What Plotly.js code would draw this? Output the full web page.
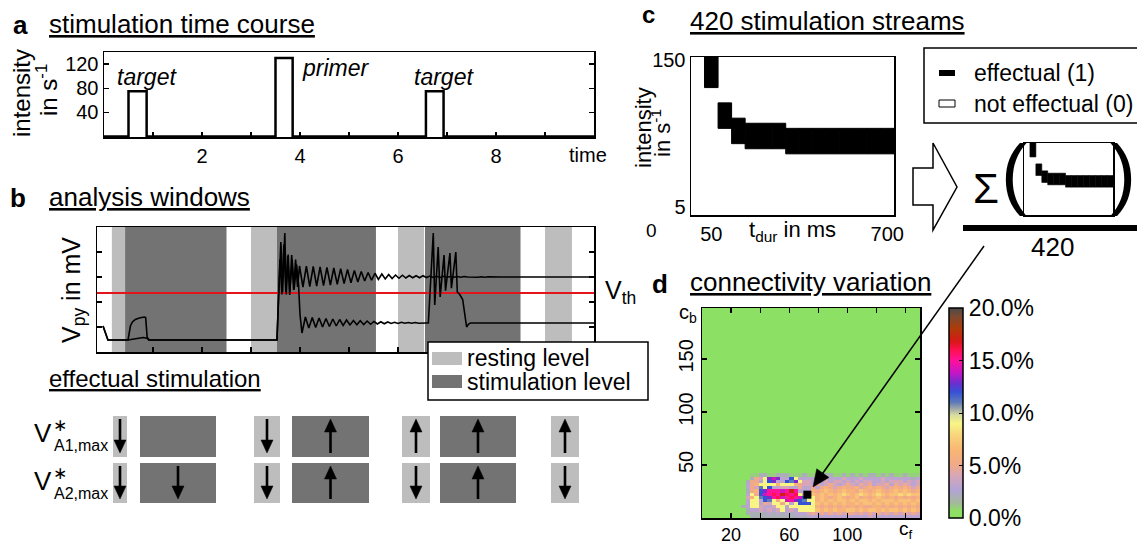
<!DOCTYPE html>
<html><head><meta charset="utf-8">
<script src="https://cdn.plot.ly/plotly-3.0.1.min.js"></script>
<style>html,body{margin:0;padding:0;background:#fff;}#chart{width:1137px;height:544px;}</style>
</head><body><div id="chart"></div>
<script>
// ================= DATA =================
// (a) stimulation time course
const pulseStart = [0.5, 3.5, 6.57];
const pulseEnd = [0.87, 3.85, 6.93];
const pulseIntensity = [75, 130, 75];
const pulseLabel = ['target', 'primer', 'target'];
const timeTicks = [2, 4, 6, 8];

// (b) analysis windows and membrane potential traces
const restWindows = [[0.16, 0.43], [3.0, 3.53], [6.0, 6.53], [9.0, 9.55]];
const stimWindows = [[0.43, 2.5], [3.53, 5.55], [6.55, 8.5]];
const vThreshold = 2.36;
const traceA_t = [-0.02, 0.08, 0.49, 0.51, 0.54, 0.58, 0.64, 0.72, 0.82, 0.85, 0.88, 0.91, 3.53, 3.57, 3.61, 3.645, 3.69, 3.72, 3.76, 3.79, 3.83, 3.87, 3.91, 3.95,
  3.99, 4.06, 4.13, 4.20, 4.27, 4.34, 4.41, 4.48, 4.55, 4.62, 4.69, 4.76, 4.83, 4.90, 4.97, 5.04, 5.11, 5.18, 5.25, 5.32, 5.39, 5.46, 5.53, 5.60, 5.67, 5.74, 5.81, 5.88, 5.95,
  6.02, 6.09, 6.16, 6.23, 6.30, 6.37, 6.44, 6.51, 6.58, 6.65, 6.72, 6.79, 6.86, 6.93, 7.00, 7.07, 7.14, 7.21, 7.28, 7.35, 7.42, 7.49, 7.56, 7.63, 7.70, 7.77, 7.84, 7.91, 8.1, 10.0];
const traceA_v = [1.04, 0.48, 0.48, 0.8, 1.05, 1.2, 1.3, 1.36, 1.4, 1.38, 0.6, 0.48, 0.48, 2.5, 4.4, 2.4, 4.76, 2.3, 3.9, 2.28, 3.88, 2.48, 3.7, 2.6,
  3.44, 2.60, 3.43, 2.62, 3.42, 2.64, 3.40, 2.66, 3.38, 2.68, 3.36, 2.71, 3.33, 2.74, 3.30, 2.77, 3.26, 2.80, 3.22, 2.84, 3.18, 2.87, 3.15, 2.90, 3.12, 2.92, 3.10, 2.94, 3.08,
  2.95, 3.07, 2.96, 3.06, 2.97, 3.05, 2.97, 3.05, 2.98, 3.04, 2.98, 3.03, 2.98, 3.03, 2.99, 3.02, 2.99, 3.02, 2.99, 3.02, 3.00, 2.99, 3.01, 2.99, 3.01, 2.99, 3.01, 3.00, 3.00, 3.00];
const traceB_t = [-0.02, 0.08, 0.49, 0.6, 0.8, 0.88, 0.93, 3.53, 3.56, 3.59, 3.63, 3.67, 3.71, 3.75, 3.79, 3.84, 3.88, 3.93, 3.97, 4.0,
  4.04, 4.11, 4.18, 4.25, 4.32, 4.39, 4.46, 4.53, 4.60, 4.67, 4.74, 4.81, 4.88, 4.95, 5.02, 5.09, 5.16, 5.23, 5.30, 5.37, 5.44, 5.51, 5.58, 5.65, 5.72, 5.79, 5.86, 5.93,
  6.00, 6.07, 6.14, 6.21, 6.28, 6.35, 6.42, 6.49, 6.56,
  6.62, 6.66, 6.72, 6.75, 6.82, 6.86, 6.94, 6.97, 7.06, 7.09, 7.18, 7.21, 7.26, 7.32, 7.37, 7.40, 7.44, 7.48, 10.0];
const traceB_v = [1.04, 0.48, 0.48, 0.52, 0.58, 0.55, 0.48, 0.48, 2.0, 3.7, 2.3, 4.3, 2.4, 3.85, 2.35, 3.7, 2.5, 3.5, 2.7, 1.5,
  0.76, 1.40, 0.96, 1.38, 0.98, 1.36, 1.00, 1.34, 1.02, 1.32, 1.04, 1.30, 1.06, 1.28, 1.08, 1.26, 1.09, 1.25, 1.10, 1.24, 1.11, 1.22, 1.12, 1.21, 1.13, 1.20, 1.14, 1.19,
  1.14, 1.19, 1.15, 1.18, 1.15, 1.18, 1.15, 1.17, 1.16,
  1.16, 2.5, 4.76, 1.88, 4.2, 2.2, 3.88, 2.45, 3.96, 2.55, 4.0, 2.4, 2.3, 2.1, 1.3, 1.0, 1.12, 1.16, 1.16];

// effectual stimulation table (window order: rest, stim, rest, stim, rest, stim, rest)
const windowKinds = ['rest', 'stim', 'rest', 'stim', 'rest', 'stim', 'rest'];
const vA1Dirs = ['down', null, 'down', 'up', 'up', 'up', 'up'];
const vA2Dirs = ['down', 'down', 'down', 'up', 'down', 'up', 'down'];

// (c) 420 stimulation streams: effectual intensity range per duration
const durations = [50, 100, 150, 200, 250, 300, 350, 400, 450, 500, 550, 600, 650, 700];
const effectualMin = [125, 85, 70, 65, 65, 65, 60, 60, 60, 60, 60, 60, 60, 60];
const effectualMax = [150, 105, 90, 85, 85, 85, 80, 80, 80, 80, 80, 80, 80, 80];
const durTicks = [50, 700];
const intTicks = [5, 150];

// (d) connectivity variation (percent, base-36 digit per cell; region c_f 27..150, c_b 42 down to 0)
const heatRows = [
  "00112" + "2112221112" + "1112221121" + "2121221212" + "112111",
  "00254" + "9ded33c933" + "3333433343" + "3343333433" + "333323",
  "02553" + "9cd33cbd94" + "4343434434" + "3434433434" + "443434",
  "03569" + "9996999654" + "4353454345" + "4354534453" + "545434",
  "0354b" + "9c33443353" + "3535654565" + "5645656545" + "656545",
  "0256c" + "dfffefhf33" + "3656765676" + "6576567656" + "767656",
  "0395c" + "efgfhgfg94" + "4767676787" + "6787678767" + "787877",
  "0469b" + "cdfgefgfec" + "9967656765" + "6756567656" + "565656",
  "03993" + "cb959efdcb" + "9967676776" + "7677676777" + "677767",
  "03993" + "54995939cc" + "c976767676" + "6767767676" + "767676",
  "23994" + "3349939999" + "9965656565" + "6565566565" + "656565",
  "02334" + "3434934399" + "9976767667" + "7676776767" + "767676",
  "02222" + "2323232333" + "4545454545" + "5454545454" + "545454",
  "00222" + "2222222232" + "3333333333" + "3333433333" + "333333"
];
const selectedPoint = [72.5, 22];
const cfTicks = [20, 60, 100];
const cbTicks = [50, 100, 150];
const cbarTicks = [0, 5, 10, 15, 20];
const cbarText = ['0.0%', '5.0%', '10.0%', '15.0%', '20.0%'];
const cbarMinor = [2.5, 7.5, 12.5, 17.5];

// ================= BUILD =================
const W = 1137, H = 544;
const PX = x => x / W, PY = y => 1 - y / H;
const FONT = 'Liberation Sans, Arial, Helvetica, sans-serif';
const LIGHT = '#bdbdbd', DARK = '#737373';

// (a) step trace
const aX = [0], aY = [0];
pulseStart.forEach((s, i) => { aX.push(s, s, pulseEnd[i], pulseEnd[i]); aY.push(0, pulseIntensity[i], pulseIntensity[i], 0); });
aX.push(10); aY.push(0);

// (d) full grid
const NX = 50, NY = 66;
const z = [];
for (let r = 0; r < NY; r++) { z.push(new Array(NX).fill(0)); }
heatRows.forEach((row, j) => {
  const ri = 13 - j;
  for (let c = 0; c < row.length; c++) z[ri][9 + c] = parseInt(row[c], 36);
});

const colorscale = [
  [0, '#8ce063'], [0.035, '#8fdf66'], [0.07, '#a3b99a'], [0.135, '#b3a3d6'], [0.2, '#d6a6b8'],
  [0.25, '#f0a98a'], [0.32, '#f8b574'], [0.39, '#f8d27c'], [0.45, '#f8f585'], [0.49, '#d8dca0'],
  [0.52, '#a0a8a8'], [0.55, '#5f7cb8'], [0.6, '#3551d6'], [0.64, '#6a2fd0'], [0.69, '#c316c8'],
  [0.75, '#ff119a'], [0.8, '#ff1050'], [0.84, '#d81818'], [0.9, '#b03a08'], [0.96, '#7c4a30'], [1, '#4a4a4a']
];

const barBase = effectualMin.map(v => v - 2.5);
const barLen = effectualMax.map((v, i) => v - effectualMin[i] + 5);

const traces = [
  { type: 'scatter', mode: 'lines', x: aX, y: aY, xaxis: 'x', yaxis: 'y', line: { color: '#000', width: 2.5 }, hoverinfo: 'skip' },
  { type: 'scatter', mode: 'lines', x: traceA_t, y: traceA_v, xaxis: 'x2', yaxis: 'y2', line: { color: '#000', width: 1.6 }, hoverinfo: 'skip' },
  { type: 'scatter', mode: 'lines', x: traceB_t, y: traceB_v, xaxis: 'x2', yaxis: 'y2', line: { color: '#000', width: 1.6 }, hoverinfo: 'skip' },
  { type: 'bar', x: durations, base: barBase, y: barLen, width: 50,
    xaxis: 'x3', yaxis: 'y3', marker: { color: '#000', line: { width: 1, color: '#000' } }, hoverinfo: 'skip' },
  { type: 'bar', x: durations, base: barBase, y: barLen, width: 50,
    xaxis: 'x5', yaxis: 'y5', marker: { color: '#000', line: { width: 0.6, color: '#000' } }, hoverinfo: 'skip' },
  { type: 'heatmap', z: z, x0: 1.5, dx: 3, y0: 1.5, dy: 3, xaxis: 'x4', yaxis: 'y4', zmin: 0, zmax: 20, colorscale: colorscale,
    hoverinfo: 'skip',
    colorbar: { x: PX(949), xanchor: 'left', y: PY(308), yanchor: 'top', len: 210 / H, lenmode: 'fraction',
      thickness: 14, thicknessmode: 'pixels', xpad: 0, ypad: 0, outlinewidth: 1.5, outlinecolor: '#000',
      tickvals: cbarTicks, ticktext: cbarText, ticks: 'inside', ticklen: 4, tickcolor: '#000', tickwidth: 1,
      tickfont: { family: FONT, size: 23, color: '#000' } } },
  { type: 'scatter', mode: 'markers', x: [selectedPoint[0]], y: [selectedPoint[1]], xaxis: 'x4', yaxis: 'y4',
    marker: { symbol: 'square', size: 8, color: '#000' }, hoverinfo: 'skip' }
];

const axBase = { showgrid: false, zeroline: false, showline: true, linecolor: '#000', linewidth: 1.5, mirror: true,
  ticks: 'inside', ticklen: 5, tickwidth: 1.2, tickcolor: '#000', fixedrange: true,
  tickfont: { family: FONT, size: 20, color: '#000' } };
const ax = o => Object.assign({}, axBase, o);
const minorT = (dtick) => ({ ticks: 'inside', ticklen: 5, tickwidth: 1.2, tickcolor: '#000', dtick: dtick, tick0: 0, showgrid: false });

const shapes = [];
// (b) windows
restWindows.forEach(w => shapes.push({ type: 'rect', xref: 'x2', yref: 'y2 domain', x0: w[0], x1: w[1], y0: 0, y1: 1, fillcolor: LIGHT, line: { width: 0 }, layer: 'below' }));
stimWindows.forEach(w => shapes.push({ type: 'rect', xref: 'x2', yref: 'y2 domain', x0: w[0], x1: w[1], y0: 0, y1: 1, fillcolor: DARK, line: { width: 0 }, layer: 'below' }));
shapes.push({ type: 'line', xref: 'x2 domain', yref: 'y2', x0: 0, x1: 1, y0: vThreshold, y1: vThreshold, line: { color: '#e3151b', width: 1.8 }, layer: 'below' });
// (b) legend
const rectP = (x0, y0, x1, y1, fill, lw) => ({ type: 'rect', xref: 'paper', yref: 'paper', x0: PX(x0), x1: PX(x1), y0: PY(y1), y1: PY(y0),
  fillcolor: fill, line: { color: '#000', width: lw }, layer: 'above' });
const lineP = (x0, y0, x1, y1, w) => ({ type: 'line', xref: 'paper', yref: 'paper', x0: PX(x0), x1: PX(x1), y0: PY(y0), y1: PY(y1), line: { color: '#000', width: w }, layer: 'above' });
const pp = pts => 'M' + pts.map(p => PX(p[0]) + ',' + PY(p[1])).join('L') + 'Z';
const pathP = (pts, fill, lw) => ({ type: 'path', xref: 'paper', yref: 'paper', path: pp(pts), fillcolor: fill, line: { color: '#000', width: lw }, layer: 'above' });
// arrow as shaft line + triangular head, from tail (tx,ty) to tip (hx,hy)
const arrowShapes = (tx, ty, hx, hy, lw, hl, hw) => {
  const dx = hx - tx, dy = hy - ty, len = Math.hypot(dx, dy), ux = dx / len, uy = dy / len;
  const bx = hx - hl * ux, by = hy - hl * uy, nx = -uy, ny = ux;
  return [lineP(tx, ty, bx + ux, by + uy, lw),
    pathP([[hx, hy], [bx + nx * hw / 2, by + ny * hw / 2], [bx - nx * hw / 2, by - ny * hw / 2]], '#000', 0.5)];
};
shapes.push(rectP(428, 342, 648, 400, '#fff', 1.5));
shapes.push(rectP(432, 352, 462, 365, LIGHT, 0));
shapes.push(rectP(432, 375, 462, 388, DARK, 0));
// effectual stimulation table boxes and arrows
const colX0 = [113, 140, 254, 292, 402, 440, 551], colX1 = [127, 216, 280, 369, 430, 516, 579];
const rowY0 = [416, 463], rowY1 = [457, 503];
[0, 1].forEach(r => windowKinds.forEach((k, c) => shapes.push(rectP(colX0[c], rowY0[r], colX1[c], rowY1[r], k === 'rest' ? LIGHT : DARK, 0))));
[vA1Dirs, vA2Dirs].forEach((dirs, r) => dirs.forEach((d, c) => {
  if (!d) return;
  const cx = (colX0[c] + colX1[c]) / 2, top = rowY0[r] + 3, bot = rowY1[r] - 4;
  const s = d === 'down' ? arrowShapes(cx, top, cx, bot, 2.6, 13, 12) : arrowShapes(cx, bot, cx, top, 2.6, 13, 12);
  shapes.push(...s);
}));
// (c) legend
shapes.push(rectP(924, 48, 1150, 123, '#fff', 1.5));
shapes.push(rectP(939, 70, 955, 76, '#000', 0));
shapes.push(rectP(939, 100, 955, 107, '#fff', 1));
// block arrow
shapes.push(pathP([[913, 168], [933, 168], [933, 143], [957, 187], [933, 230], [933, 205], [913, 205]], '#fff', 1.5));
// fraction bar
shapes.push(lineP(963, 228, 1140, 228, 6));
// arrow from the fraction to the selected connectivity
shapes.push(...arrowShapes(984, 246, 813, 487, 1.5, 17, 15));
// colorbar minor ticks
cbarMinor.forEach(v => shapes.push({ type: 'line', xref: 'paper', yref: 'y4', x0: PX(958), x1: PX(963), y0: v / 20 * 198, y1: v / 20 * 198, line: { color: '#000', width: 1 }, layer: 'above' }));

const A = (text, x, y, size, o) => Object.assign({ text: text, x: PX(x), y: PY(y), xref: 'paper', yref: 'paper', showarrow: false,
  xanchor: 'center', yanchor: 'middle', font: { family: FONT, size: size, color: '#000' } }, o || {});
const L = { xanchor: 'left' };
const STAR = { font: { family: 'DejaVu Sans, sans-serif', size: 17, color: '#000' } };
const anns = [
  A('<b>a</b>', 20, 25, 26), A('<u>stimulation time course</u>', 47, 24, 26, L),
  A('intensity', 22, 93, 24, { textangle: -90 }), A('in s<sup>-1</sup>', 47, 90, 24, { textangle: -90 }),
  A('time', 588, 155, 20),
  A('<b>b</b>', 18, 198, 26), A('<u>analysis windows</u>', 47, 197, 26, L),
  A('V<sub>py</sub> in mV', 73, 290, 25, { textangle: -90 }),
  A('V<sub>th</sub>', 603, 292, 25, L),
  A('resting level', 465, 358, 23, L), A('stimulation level', 465, 382, 23, L),
  A('<u>effectual stimulation</u>', 47, 378, 24, L),
  A('V', 43, 433, 26), A('A1,max', 52, 445, 16, L), A('\u2217', 60, 425, 17, STAR),
  A('V', 43, 481, 26), A('A2,max', 52, 493, 16, L), A('\u2217', 60, 473, 17, STAR),
  A('<b>c</b>', 648, 14, 24), A('<u>420 stimulation streams</u>', 688, 21, 26, L),
  A('intensity', 643, 128, 22, { textangle: -90 }), A('in s<sup>-1</sup>', 661, 133, 22, { textangle: -90 }),
  A('0', 651, 230, 19), A('t<sub>dur</sub> in ms', 792, 231, 22),
  A('effectual (1)', 972, 73, 23, L), A('not effectual (0)', 972, 104, 23, L),
  A('Σ', 986, 188, 42), A('(', 1014, 173, 78), A(')', 1123, 173, 78),
  A('420', 1052, 247, 26),
  A('<b>d</b>', 660, 284, 26), A('<u>connectivity variation</u>', 688, 282, 26, L),
  A('c<sub>b</sub>', 688, 313, 20),
  A('c<sub>f</sub>', 906, 530, 19)
];
// pulse labels
pulseLabel.forEach((t, i) => {
  if (t === 'primer') anns.push({ text: '<i>' + t + '</i>', x: pulseEnd[i] + 0.14, y: 113, xref: 'x', yref: 'y', xanchor: 'left', yanchor: 'middle', showarrow: false, font: { family: FONT, size: 23, color: '#000' } });
  else anns.push({ text: '<i>' + t + '</i>', x: pulseEnd[i], y: 98, xref: 'x', yref: 'y', xanchor: 'center', yanchor: 'middle', showarrow: false, font: { family: FONT, size: 23, color: '#000' } });
});

const layout = {
  width: W, height: H, autosize: false, margin: { l: 0, r: 0, t: 0, b: 0 },
  paper_bgcolor: '#fff', plot_bgcolor: 'rgba(0,0,0,0)', showlegend: false,
  font: { family: FONT, color: '#000' },
  xaxis: ax({ domain: [PX(104), PX(594)], range: [0, 10], anchor: 'y', tickvals: timeTicks, minor: minorT(1) }),
  yaxis: ax({ domain: [PY(137), PY(52)], range: [-1, 140], anchor: 'x', tickvals: [40, 80, 120], mirror: 'ticks' }),
  xaxis2: ax({ domain: [PX(97), PX(594)], range: [-0.143, 10], anchor: 'y2', tickvals: [1, 2, 3, 4, 5, 6, 7, 8, 9], showticklabels: false }),
  yaxis2: ax({ domain: [PY(352), PY(227)], range: [0, 5], anchor: 'x2', tickvals: [1, 2, 3, 4], showticklabels: false, mirror: 'ticks' }),
  xaxis3: ax({ domain: [PX(691), PX(894)], range: [-25, 725], anchor: 'y3', tickvals: durTicks, ticks: '' }),
  yaxis3: ax({ domain: [PY(215), PY(57)], range: [-2.5, 152.5], anchor: 'x3', tickvals: intTicks, ticks: '' }),
  xaxis4: ax({ domain: [PX(702), PX(920)], range: [0, 150], anchor: 'y4', tickvals: cfTicks, mirror: 'ticks', minor: minorT(20),
    tickfont: { family: FONT, size: 18, color: '#000' } }),
  yaxis4: ax({ domain: [PY(518), PY(308)], range: [0, 198], anchor: 'x4', tickvals: cbTicks, tickangle: -90, mirror: 'ticks' }),
  xaxis5: ax({ domain: [PX(1024), PX(1113)], range: [-25, 725], anchor: 'y5', ticks: '', showticklabels: false }),
  yaxis5: ax({ domain: [PY(215), PY(143)], range: [-2.5, 152.5], anchor: 'x5', ticks: '', showticklabels: false }),
  shapes: shapes,
  annotations: anns
};

Plotly.newPlot('chart', traces, layout, { staticPlot: true, displayModeBar: false });
</script>
</body></html>
